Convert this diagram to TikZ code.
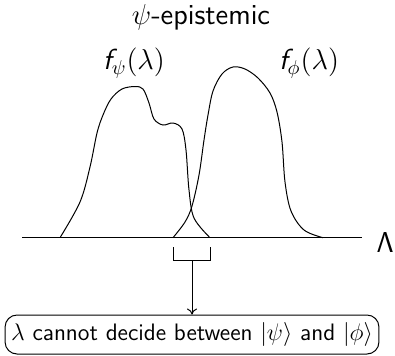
\documentclass[tikz,border=0pt]{standalone}
\usepackage{amsmath}
\usetikzlibrary{arrows.meta, positioning}
\renewcommand{\familydefault}{\sfdefault}
\newcommand{\fsf}{\textsf{\itshape f}}

\begin{document}
\begin{tikzpicture}[
    x=0.5pt, y=-0.5pt,
    line width=0.5pt,
    >={To[length=3pt, width=5pt]},
    every node/.style={font=\fontsize{14.5}{16}\selectfont},
    lbl/.style={inner sep=1pt},
    msg/.style={draw, rounded corners=6pt, inner xsep=3pt, minimum height=19.5pt,
        font=\fontsize{11.9}{13}\selectfont},
]
    \useasboundingbox (0,0) rectangle (395,355);

    % labels
    \node[lbl] (title) at (201,17)  {$\psi$-epistemic};
    \node[lbl] (fpsi)  at (134,63)  {$\fsf_{\psi}(\lambda)$};
    \node[lbl] (fphi)  at (309,63)  {$\fsf_{\phi}(\lambda)$};

    % axis
    \coordinate (ax0) at (22,237.7);
    \coordinate (ax1) at (362,237.7);
    \draw (ax0) -- (ax1);
    \node[lbl, anchor=west] (lam) at (374,242) {$\mathsf{\Lambda}$};

    % f_psi
    \draw plot[smooth, tension=0.55] coordinates {
        (60,237.7) (80,202) (90,167) (97,133) (103,115) (111,99)
        (122,89) (135,86.5) (143,89) (149,103) (154,119) (163,125)
        (173,123) (182,129) (186,150) (189,190) (194,218) (210,237.7)};

    % f_phi
    \draw plot[smooth, tension=0.55] coordinates {
        (173,237.7) (185,222) (192,206) (199,175) (204,140) (208,115)
        (213,91) (222,74) (233,67) (245,69) (258,78) (270,93)
        (277,112) (282,142) (285,182) (291,211) (304,230) (323,237.7)};

    % bracket under the overlap
    \coordinate (bl) at (173,247);
    \coordinate (br) at (210,247);
    \coordinate (brk) at (192,260);
    \draw (bl) |- (brk) -| (br);

    % message box
    \node[msg] (box) at (192,334.5)
        {$\lambda$ cannot decide between $|\psi\rangle$ and $|\phi\rangle$};
    \draw[->] (brk) -- (box.north);

\end{tikzpicture}
\end{document}
